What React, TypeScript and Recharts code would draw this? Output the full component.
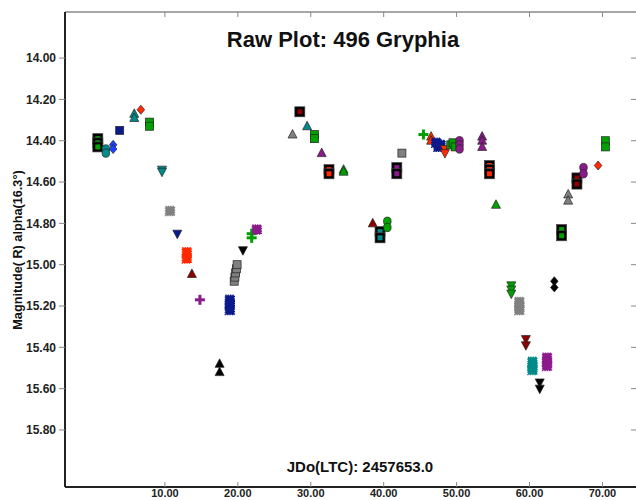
import { ScatterChart, Scatter, XAxis, YAxis } from "recharts";

type Pt = { x: number; y: number };

const X_TICKS = [10, 20, 30, 40, 50, 60, 70];
const Y_TICKS = [14.0, 14.2, 14.4, 14.6, 14.8, 15.0, 15.2, 15.4, 15.6, 15.8];

// one array per observing night: JD offset, R magnitude
const n01: Pt[] = [{ x: 0.8, y: 14.39 }, { x: 0.8, y: 14.41 }, { x: 0.8, y: 14.43 }];
const n02: Pt[] = [{ x: 1.9, y: 14.44 }, { x: 1.9, y: 14.46 }];
const n03: Pt[] = [{ x: 2.9, y: 14.42 }, { x: 2.9, y: 14.44 }];
const n04: Pt[] = [{ x: 3.8, y: 14.35 }];
const n05: Pt[] = [{ x: 5.8, y: 14.27 }, { x: 5.8, y: 14.29 }];
const n06: Pt[] = [{ x: 6.7, y: 14.25 }];
const n07: Pt[] = [{ x: 7.9, y: 14.31 }, { x: 7.9, y: 14.33 }];
const n08: Pt[] = [{ x: 9.6, y: 14.54 }, { x: 9.6, y: 14.55 }];
const n09: Pt[] = [{ x: 10.7, y: 14.74 }];
const n10: Pt[] = [{ x: 11.7, y: 14.85 }];
const n11: Pt[] = [{ x: 13.0, y: 14.94 }, { x: 13.0, y: 14.97 }];
const n12: Pt[] = [{ x: 13.7, y: 15.045 }];
const n13: Pt[] = [{ x: 14.8, y: 15.17 }];
const n14: Pt[] = [{ x: 17.5, y: 15.48 }, { x: 17.5, y: 15.52 }];
const n15: Pt[] = [{ x: 18.9, y: 15.17 }, { x: 18.9, y: 15.19 }, { x: 18.9, y: 15.22 }];
const n16: Pt[] = [
  { x: 19.5, y: 15.08 }, { x: 19.6, y: 15.06 }, { x: 19.7, y: 15.04 }, { x: 19.8, y: 15.02 }, { x: 19.9, y: 15.0 },
];
const n17: Pt[] = [{ x: 20.7, y: 14.93 }];
const n18: Pt[] = [{ x: 21.9, y: 14.85 }, { x: 21.9, y: 14.87 }];
const n19: Pt[] = [{ x: 22.6, y: 14.83 }];
const n20: Pt[] = [{ x: 27.5, y: 14.37 }];
const n21: Pt[] = [{ x: 28.5, y: 14.26 }];
const n22: Pt[] = [{ x: 29.5, y: 14.33 }];
const n23: Pt[] = [{ x: 30.5, y: 14.37 }, { x: 30.5, y: 14.39 }];
const n24: Pt[] = [{ x: 31.5, y: 14.46 }];
const n25: Pt[] = [{ x: 32.5, y: 14.54 }, { x: 32.5, y: 14.56 }];
const n26: Pt[] = [{ x: 34.5, y: 14.54 }, { x: 34.5, y: 14.55 }];
const n27: Pt[] = [{ x: 38.5, y: 14.8 }];
const n28: Pt[] = [{ x: 39.5, y: 14.84 }, { x: 39.5, y: 14.87 }];
const n29: Pt[] = [{ x: 40.5, y: 14.79 }, { x: 40.5, y: 14.82 }];
const n30: Pt[] = [{ x: 41.8, y: 14.53 }, { x: 41.8, y: 14.56 }];
const n31: Pt[] = [{ x: 42.5, y: 14.46 }];
const n32: Pt[] = [{ x: 45.45, y: 14.37 }];
const n33: Pt[] = [{ x: 46.5, y: 14.38 }, { x: 46.5, y: 14.4 }];
const n34: Pt[] = [{ x: 47.2, y: 14.41 }, { x: 47.5, y: 14.43 }, { x: 47.8, y: 14.42 }];
const n35: Pt[] = [{ x: 48.4, y: 14.44 }, { x: 48.4, y: 14.46 }];
const n36: Pt[] = [{ x: 49.2, y: 14.42 }, { x: 49.5, y: 14.41 }, { x: 49.8, y: 14.43 }];
const n37: Pt[] = [{ x: 50.4, y: 14.4 }, { x: 50.4, y: 14.42 }, { x: 50.4, y: 14.44 }];
const n38: Pt[] = [{ x: 53.5, y: 14.38 }, { x: 53.5, y: 14.4 }, { x: 53.5, y: 14.43 }];
const n39: Pt[] = [{ x: 54.5, y: 14.52 }, { x: 54.5, y: 14.54 }, { x: 54.5, y: 14.56 }];
const n40: Pt[] = [{ x: 55.4, y: 14.71 }];
const n41: Pt[] = [{ x: 57.5, y: 15.1 }, { x: 57.5, y: 15.12 }, { x: 57.5, y: 15.14 }];
const n42: Pt[] = [{ x: 58.6, y: 15.18 }, { x: 58.6, y: 15.2 }, { x: 58.6, y: 15.22 }];
const n43: Pt[] = [{ x: 59.5, y: 15.36 }, { x: 59.5, y: 15.39 }];
const n44: Pt[] = [{ x: 60.4, y: 15.47 }, { x: 60.4, y: 15.49 }, { x: 60.4, y: 15.51 }];
const n45: Pt[] = [{ x: 61.4, y: 15.57 }, { x: 61.4, y: 15.6 }];
const n46: Pt[] = [{ x: 62.4, y: 15.45 }, { x: 62.4, y: 15.47 }, { x: 62.4, y: 15.49 }];
const n47: Pt[] = [{ x: 63.4, y: 15.08 }, { x: 63.4, y: 15.11 }];
const n48: Pt[] = [{ x: 64.4, y: 14.83 }, { x: 64.4, y: 14.86 }];
const n49: Pt[] = [{ x: 65.3, y: 14.66 }, { x: 65.3, y: 14.69 }];
const n50: Pt[] = [{ x: 66.5, y: 14.58 }, { x: 66.5, y: 14.61 }];
const n51: Pt[] = [{ x: 67.4, y: 14.53 }, { x: 67.4, y: 14.56 }];
const n52: Pt[] = [{ x: 69.4, y: 14.52 }];
const n53: Pt[] = [{ x: 70.4, y: 14.4 }, { x: 70.4, y: 14.43 }];

const C = {
  black: "#000000",
  green: "#00a000",
  teal: "#008b8b",
  blue: "#1e40ff",
  navy: "#0a1a8c",
  red: "#ff2a00",
  maroon: "#8b0000",
  purple: "#8b1a8b",
  gray: "#808080",
};

type Kind = "square" | "circle" | "diamond" | "tri" | "triDown" | "star" | "plus" | "boxed";

const SERIES: { data: Pt[]; kind: Kind; color: string }[] = [
  { data: n01, kind: "boxed", color: C.green },
  { data: n02, kind: "circle", color: C.teal },
  { data: n03, kind: "diamond", color: C.blue },
  { data: n04, kind: "square", color: C.navy },
  { data: n05, kind: "tri", color: C.teal },
  { data: n06, kind: "diamond", color: C.red },
  { data: n07, kind: "square", color: C.green },
  { data: n08, kind: "triDown", color: C.teal },
  { data: n09, kind: "star", color: C.gray },
  { data: n10, kind: "triDown", color: C.navy },
  { data: n11, kind: "star", color: C.red },
  { data: n12, kind: "tri", color: C.maroon },
  { data: n13, kind: "plus", color: C.purple },
  { data: n14, kind: "tri", color: C.black },
  { data: n15, kind: "star", color: C.navy },
  { data: n16, kind: "square", color: C.gray },
  { data: n17, kind: "triDown", color: C.black },
  { data: n18, kind: "plus", color: C.green },
  { data: n19, kind: "star", color: C.purple },
  { data: n20, kind: "tri", color: C.gray },
  { data: n21, kind: "boxed", color: C.maroon },
  { data: n22, kind: "tri", color: C.teal },
  { data: n23, kind: "square", color: C.green },
  { data: n24, kind: "tri", color: C.purple },
  { data: n25, kind: "boxed", color: C.red },
  { data: n26, kind: "tri", color: C.green },
  { data: n27, kind: "tri", color: C.maroon },
  { data: n28, kind: "boxed", color: C.teal },
  { data: n29, kind: "circle", color: C.green },
  { data: n30, kind: "boxed", color: C.purple },
  { data: n31, kind: "square", color: C.gray },
  { data: n32, kind: "plus", color: C.green },
  { data: n33, kind: "tri", color: C.red },
  { data: n34, kind: "star", color: C.navy },
  { data: n35, kind: "triDown", color: C.red },
  { data: n36, kind: "square", color: C.green },
  { data: n37, kind: "circle", color: C.purple },
  { data: n38, kind: "tri", color: C.purple },
  { data: n39, kind: "boxed", color: C.red },
  { data: n40, kind: "tri", color: C.green },
  { data: n41, kind: "triDown", color: C.green },
  { data: n42, kind: "star", color: C.gray },
  { data: n43, kind: "triDown", color: C.maroon },
  { data: n44, kind: "star", color: C.teal },
  { data: n45, kind: "triDown", color: C.black },
  { data: n46, kind: "star", color: C.purple },
  { data: n47, kind: "diamond", color: C.black },
  { data: n48, kind: "boxed", color: C.green },
  { data: n49, kind: "tri", color: C.gray },
  { data: n50, kind: "boxed", color: C.maroon },
  { data: n51, kind: "circle", color: C.purple },
  { data: n52, kind: "diamond", color: C.red },
  { data: n53, kind: "square", color: C.green },
];

const FONT = "'Liberation Sans', Arial, sans-serif";
const EDGE = "#222";

function marker(kind: Kind, color: string) {
  return (props: any) => {
    const { cx, cy } = props;
    if (cx == null || cy == null) return <g />;
    switch (kind) {
      case "square":
        return <rect x={cx - 4} y={cy - 4} width={8} height={8} fill={color} stroke={EDGE} strokeWidth={0.7} />;
      case "circle":
        return <ellipse cx={cx} cy={cy} rx={3.8} ry={4.2} fill={color} stroke={EDGE} strokeWidth={0.7} />;
      case "diamond":
        return (
          <polygon
            points={`${cx},${cy - 4.5} ${cx + 3.8},${cy} ${cx},${cy + 4.5} ${cx - 3.8},${cy}`}
            fill={color}
            stroke={EDGE}
            strokeWidth={0.7}
          />
        );
      case "tri":
        return (
          <polygon
            points={`${cx},${cy - 5} ${cx + 4.5},${cy + 3.5} ${cx - 4.5},${cy + 3.5}`}
            fill={color}
            stroke={EDGE}
            strokeWidth={0.7}
          />
        );
      case "triDown":
        return (
          <polygon
            points={`${cx - 4.5},${cy - 3.5} ${cx + 4.5},${cy - 3.5} ${cx},${cy + 5}`}
            fill={color}
            stroke={EDGE}
            strokeWidth={0.7}
          />
        );
      case "star":
        // fuzzy square look of the original asterisk marker
        return (
          <rect
            x={cx - 4.5}
            y={cy - 4.5}
            width={9}
            height={9}
            fill={color}
            stroke={color}
            strokeWidth={1.4}
            strokeDasharray="1.2 1.2"
          />
        );
      case "plus":
        return (
          <g fill={color}>
            <rect x={cx - 5} y={cy - 1.5} width={10} height={3} />
            <rect x={cx - 1.5} y={cy - 5} width={3} height={10} />
          </g>
        );
      case "boxed":
      default:
        return (
          <g>
            <rect x={cx - 5} y={cy - 5} width={10} height={10} fill="#000" stroke="#444" strokeWidth={0.7} />
            <rect x={cx - 2.5} y={cy - 2.5} width={5} height={5} fill={color} />
          </g>
        );
    }
  };
}

function BottomTick(props: any) {
  const { x, y, payload } = props;
  return (
    <g>
      <line x1={x} x2={x} y1={y} y2={y - 5} stroke="#888" />
      <text x={x} y={y + 10} textAnchor="middle" fontFamily={FONT} fontWeight="bold" fontSize={11} fill="#222">
        {Number(payload.value).toFixed(2)}
      </text>
    </g>
  );
}

const X_DOMAIN: [number, number] = [-3.7, 74.6];
const Y_DOMAIN: [number, number] = [13.777, 16.076];

export default function App() {
  return (
    <div style={{ position: "absolute", left: 0, top: 0, width: 636, height: 500, background: "#fff" }}>
      <ScatterChart width={636} height={500} margin={{ top: 12, right: 0, bottom: 0, left: 0 }}>
        <XAxis
          xAxisId="bottom"
          type="number"
          dataKey="x"
          domain={X_DOMAIN}
          ticks={X_TICKS}
          allowDataOverflow
          height={13}
          tickSize={0}
          tickMargin={0}
          tickLine={false}
          tick={<BottomTick />}
          axisLine={{ stroke: "#222", strokeWidth: 2 }}
        />
        <XAxis
          xAxisId="top"
          orientation="top"
          mirror
          type="number"
          dataKey="x"
          domain={X_DOMAIN}
          ticks={X_TICKS}
          allowDataOverflow
          tickSize={5}
          tickFormatter={() => ""}
          tickLine={{ stroke: "#888" }}
          axisLine={{ stroke: "#888", strokeWidth: 1.5 }}
        />
        <YAxis
          yAxisId="left"
          type="number"
          dataKey="y"
          domain={Y_DOMAIN}
          reversed
          ticks={Y_TICKS}
          allowDataOverflow
          width={65}
          tickSize={6}
          tickMargin={3}
          tickLine={{ stroke: "#888" }}
          axisLine={{ stroke: "#222", strokeWidth: 2 }}
          tickFormatter={(v: number) => v.toFixed(2)}
          tick={{ fontFamily: FONT, fontWeight: "bold", fontSize: 12, fill: "#222" }}
        />
        <YAxis
          yAxisId="right"
          orientation="right"
          mirror
          type="number"
          dataKey="y"
          domain={Y_DOMAIN}
          reversed
          ticks={Y_TICKS}
          allowDataOverflow
          tickSize={5}
          axisLine={false}
          tickLine={{ stroke: "#888" }}
          tickFormatter={() => ""}
        />
        {SERIES.map((s, i) => (
          <Scatter
            key={i}
            xAxisId="bottom"
            yAxisId="left"
            data={s.data}
            fill={s.color}
            shape={marker(s.kind, s.color)}
            isAnimationActive={false}
          />
        ))}
      </ScatterChart>
      <div
        style={{
          position: "absolute",
          left: 143,
          top: 27,
          width: 400,
          textAlign: "center",
          fontFamily: FONT,
          fontWeight: "bold",
          fontSize: 22,
          lineHeight: "26px",
          color: "#111",
        }}
      >
        Raw Plot: 496 Gryphia
      </div>
      <div
        style={{
          position: "absolute",
          left: 210,
          top: 458,
          width: 300,
          textAlign: "center",
          fontFamily: FONT,
          fontWeight: "bold",
          fontSize: 15,
          lineHeight: "18px",
          color: "#111",
        }}
      >
        JDo(LTC): 2457653.0
      </div>
      <div
        style={{
          position: "absolute",
          left: 18 - 110,
          top: 250 - 8,
          width: 220,
          textAlign: "center",
          fontFamily: FONT,
          fontWeight: "bold",
          fontSize: 12.7,
          lineHeight: "16px",
          color: "#111",
          transform: "rotate(-90deg)",
        }}
      >
        Magnitude( R) alpha(16.3°)
      </div>
    </div>
  );
}
